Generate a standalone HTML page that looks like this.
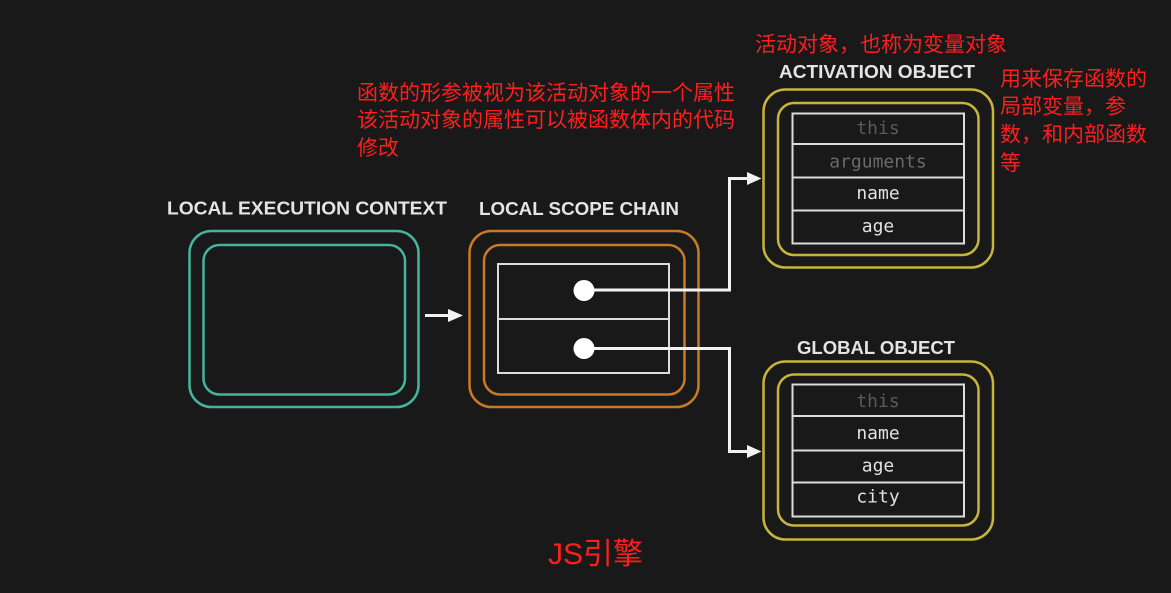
<!DOCTYPE html>
<html>
<head>
<meta charset="utf-8">
<style>
  html, body { margin:0; padding:0; background:#191919; }
  body { width:1171px; height:593px; overflow:hidden; }
  svg { display:block; }
  .hd { font-family:"Liberation Sans", sans-serif; font-weight:bold; font-size:18px; fill:#e4e4e4; }
  .mono { font-family:"DejaVu Sans Mono", "Liberation Mono", monospace; font-size:18px; text-anchor:middle; }
  .red { font-family:"Liberation Sans", "Noto Sans CJK SC", sans-serif; font-size:21px; fill:#ff1e1e; }
</style>
</head>
<body>
<svg width="1171" height="593" viewBox="0 0 1171 593" xmlns="http://www.w3.org/2000/svg">
  <rect x="0" y="0" width="1171" height="593" fill="#191919"/>

  <!-- Headings -->
  <text class="hd" x="167" y="214.5" textLength="280" lengthAdjust="spacingAndGlyphs">LOCAL EXECUTION CONTEXT</text>
  <text class="hd" x="479" y="215" textLength="200" lengthAdjust="spacingAndGlyphs">LOCAL SCOPE CHAIN</text>
  <text class="hd" x="779" y="78" textLength="196" lengthAdjust="spacingAndGlyphs">ACTIVATION OBJECT</text>
  <text class="hd" x="797" y="354" textLength="158" lengthAdjust="spacingAndGlyphs">GLOBAL OBJECT</text>

  <!-- Local execution context (teal) -->
  <rect x="189.5" y="231" width="229" height="176" rx="22" ry="22" fill="none" stroke="#46b49c" stroke-width="2.5"/>
  <rect x="203.5" y="245" width="201.5" height="149.5" rx="16" ry="16" fill="none" stroke="#46b49c" stroke-width="2.5"/>

  <!-- arrow between -->
  <line x1="425" y1="315.5" x2="450" y2="315.5" stroke="#f2f2f2" stroke-width="3"/>
  <polygon points="448,309 463,315.5 448,322" fill="#f2f2f2"/>

  <!-- Local scope chain (orange) -->
  <rect x="469.5" y="231" width="229" height="176" rx="22" ry="22" fill="none" stroke="#c87a26" stroke-width="2.5"/>
  <rect x="484" y="245" width="200.5" height="149.5" rx="16" ry="16" fill="none" stroke="#c87a26" stroke-width="2.5"/>
  <rect x="498" y="264" width="171" height="109" fill="none" stroke="#dcdcdc" stroke-width="2"/>
  <line x1="498" y1="319" x2="669" y2="319" stroke="#dcdcdc" stroke-width="2"/>

  <!-- connectors -->
  <polyline points="584,290 729.5,290 729.5,178.5 749,178.5" fill="none" stroke="#f2f2f2" stroke-width="3"/>
  <polygon points="747,172 761.5,178.5 747,185" fill="#f2f2f2"/>
  <polyline points="584,348.5 729.5,348.5 729.5,451.5 749,451.5" fill="none" stroke="#f2f2f2" stroke-width="3"/>
  <polygon points="747,445 761.5,451.5 747,458" fill="#f2f2f2"/>
  <circle cx="584" cy="290.5" r="10.5" fill="#ffffff"/>
  <circle cx="584" cy="348.5" r="10.5" fill="#ffffff"/>

  <!-- Activation object (yellow) -->
  <rect x="763.5" y="89.5" width="229.5" height="178" rx="22" ry="22" fill="none" stroke="#c8b43a" stroke-width="2.5"/>
  <rect x="778" y="103" width="200.5" height="152" rx="16" ry="16" fill="none" stroke="#c8b43a" stroke-width="2.5"/>
  <rect x="792.5" y="113.5" width="171.5" height="130" fill="none" stroke="#dcdcdc" stroke-width="2"/>
  <line x1="792.5" y1="144" x2="964" y2="144" stroke="#dcdcdc" stroke-width="2"/>
  <line x1="792.5" y1="177.5" x2="964" y2="177.5" stroke="#dcdcdc" stroke-width="2"/>
  <line x1="792.5" y1="210.5" x2="964" y2="210.5" stroke="#dcdcdc" stroke-width="2"/>
  <text class="mono" x="878" y="134" fill="#5a5a5a">this</text>
  <text class="mono" x="878" y="167.5" fill="#6a6a6a">arguments</text>
  <text class="mono" x="878" y="199" fill="#e2e2e2">name</text>
  <text class="mono" x="878" y="232" fill="#e2e2e2">age</text>

  <!-- Global object (yellow) -->
  <rect x="763.5" y="361.5" width="229.5" height="178" rx="22" ry="22" fill="none" stroke="#c8b43a" stroke-width="2.5"/>
  <rect x="778" y="374.5" width="200.5" height="151" rx="16" ry="16" fill="none" stroke="#c8b43a" stroke-width="2.5"/>
  <rect x="792.5" y="384.5" width="171.5" height="132" fill="none" stroke="#dcdcdc" stroke-width="2"/>
  <line x1="792.5" y1="416" x2="964" y2="416" stroke="#dcdcdc" stroke-width="2"/>
  <line x1="792.5" y1="450.5" x2="964" y2="450.5" stroke="#dcdcdc" stroke-width="2"/>
  <line x1="792.5" y1="482.5" x2="964" y2="482.5" stroke="#dcdcdc" stroke-width="2"/>
  <text class="mono" x="878" y="407" fill="#5a5a5a">this</text>
  <text class="mono" x="878" y="439" fill="#e2e2e2">name</text>
  <text class="mono" x="878" y="471.5" fill="#e2e2e2">age</text>
  <text class="mono" x="878" y="502.5" fill="#e2e2e2">city</text>

  <!-- Red annotations -->
  <text class="red" x="755" y="51.5">活动对象，也称为变量对象</text>
  <text class="red" x="357" y="100">函数的形参被视为该活动对象的一个属性</text>
  <text class="red" x="357" y="127">该活动对象的属性可以被函数体内的代码</text>
  <text class="red" x="357" y="155">修改</text>
  <text class="red" x="1000" y="86">用来保存函数的</text>
  <text class="red" x="1000" y="113.5">局部变量，参</text>
  <text class="red" x="1000" y="141.5">数，和内部函数</text>
  <text class="red" x="1000" y="170">等</text>
  <text class="red" x="548" y="564" style="font-size:30px" textLength="95" lengthAdjust="spacingAndGlyphs">JS引擎</text>
</svg>
</body>
</html>
